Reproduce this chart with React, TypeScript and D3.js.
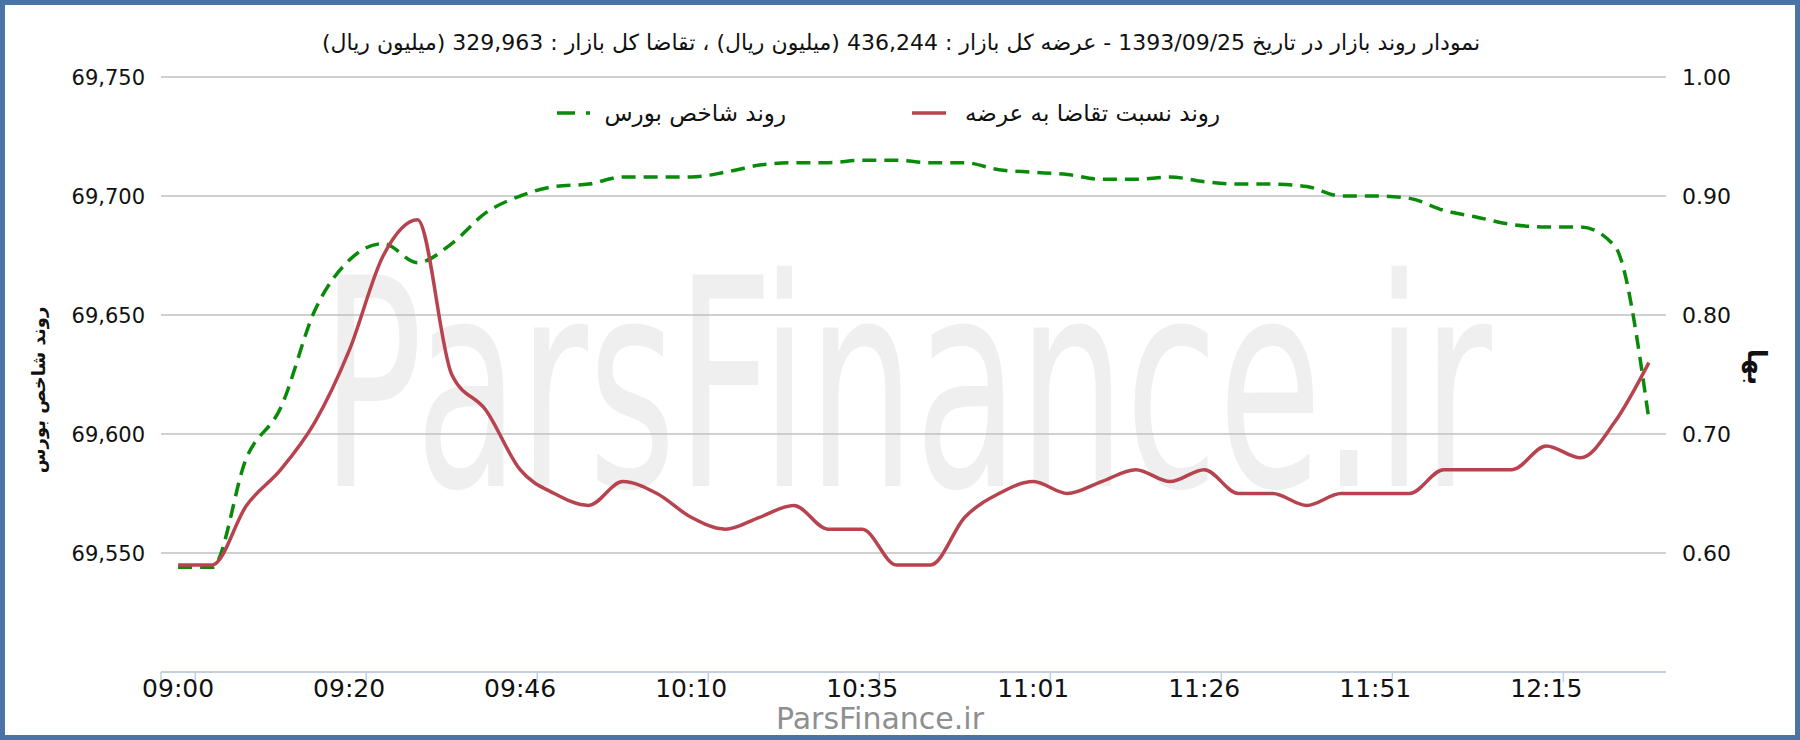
import React, { useLayoutEffect, useRef, useState } from 'react';
import * as d3 from 'd3';

const titleText = 'نمودار روند بازار در تاریخ 1393/09/25 - عرضه کل بازار : 436,244 (میلیون ریال) ، تقاضا کل بازار : 329,963 (میلیون ریال)';
const leftAxisTitle = 'روند شاخص بورس';
const rightAxisTitle = 'بها';
const seriesIndexName = 'روند شاخص بورس';
const seriesRatioName = 'روند نسبت تقاضا به عرضه';
const watermark = 'ParsFinance.ir';

const timeLabels = ['09:00', '09:20', '09:46', '10:10', '10:35', '11:01', '11:26', '11:51', '12:15'];
const labelStep = 5;

const leftTicks = [69550, 69600, 69650, 69700, 69750];
const rightTicks = [0.6, 0.7, 0.8, 0.9, 1.0];

const indexValues = [
  69544, 69544, 69590, 69611, 69652, 69673, 69680, 69672, 69680, 69693,
  69700, 69704, 69705, 69708, 69708, 69708, 69710, 69713, 69714, 69714,
  69715, 69715, 69714, 69714, 69711, 69710, 69709, 69707, 69707, 69708,
  69706, 69705, 69705, 69704, 69700, 69700, 69699, 69694, 69691, 69688,
  69687, 69687, 69679, 69606,
];

const ratioValues = [
  0.59, 0.59, 0.64, 0.67, 0.71, 0.77, 0.85, 0.88, 0.75, 0.72,
  0.67, 0.65, 0.64, 0.66, 0.65, 0.63, 0.62, 0.63, 0.64, 0.62,
  0.62, 0.59, 0.59, 0.63, 0.65, 0.66, 0.65, 0.66, 0.67, 0.66,
  0.67, 0.65, 0.65, 0.64, 0.65, 0.65, 0.65, 0.67, 0.67, 0.67,
  0.69, 0.68, 0.71, 0.76,
];

const W = 1800;
const H = 740;
const PL = 161;
const PR = 1666;
const PT = 77;
const PB = 672;
const FONT = '"DejaVu Sans", sans-serif';
const GREEN = '#0a8a0a';
const RED = '#b7434f';
const WM_X = 321;
const WM_W = 1171;

export default function App() {
  const wmRef = useRef<SVGTextElement>(null);
  const [wmScale, setWmScale] = useState(0.553);

  useLayoutEffect(() => {
    if (wmRef.current) {
      const len = wmRef.current.getComputedTextLength();
      if (len > 0) setWmScale(WM_W / len);
    }
  }, []);

  const n = indexValues.length;
  const x = d3.scaleLinear().domain([-0.5, n - 0.5]).range([PL, PR]);
  const yL = d3.scaleLinear().domain([69500, 69750]).range([PB, PT]);
  const yR = d3.scaleLinear().domain([0.5, 1.0]).range([PB, PT]);

  const lineIdx = d3.line<number>().x((_, i) => x(i)).y((d) => yL(d)).curve(d3.curveMonotoneX);
  const lineRatio = d3.line<number>().x((_, i) => x(i)).y((d) => yR(d)).curve(d3.curveMonotoneX);

  const labelPos = timeLabels.map((t, k) => ({ t, i: k * labelStep }));
  const tickXs = [x(-0.5), ...labelPos.map((p) => x(p.i + 0.5))];

  return (
    <svg width={W} height={H} style={{ position: 'absolute', left: 0, top: 0, display: 'block', background: '#fff' }} fontFamily={FONT}>
      <rect x={0} y={0} width={W} height={H} fill="#fff" />
      {/* watermark */}
      <g transform={`translate(${WM_X},486) scale(${wmScale},1)`}>
        <text ref={wmRef} x={0} y={0} fontSize={290} fill="#efefef">{watermark}</text>
      </g>

      {/* title */}
      <text x={901} y={50} fontSize={22} textAnchor="middle" direction="rtl" fill="#111">{titleText}</text>

      {/* gridlines */}
      {leftTicks.map((v) => (
        <line key={v} x1={PL} x2={PR} y1={yL(v)} y2={yL(v)} stroke="#c0c0c0" strokeWidth={1.5} />
      ))}

      {/* left ticks */}
      {leftTicks.map((v) => (
        <text key={'l' + v} x={145} y={yL(v) + 7.5} fontSize={21} textAnchor="end" fill="#111">{d3.format(',')(v)}</text>
      ))}
      {/* right ticks */}
      {rightTicks.map((v) => (
        <text key={'r' + v} x={1682} y={yR(v) + 8} fontSize={22} textAnchor="start" fill="#111">{d3.format('.2f')(v)}</text>
      ))}

      {/* x axis */}
      <line x1={PL} x2={PR} y1={PB} y2={PB} stroke="#c0d0e0" strokeWidth={2} />
      {tickXs.map((tx, k) => (
        <line key={'t' + k} x1={tx} x2={tx} y1={PB} y2={PB + 10} stroke="#c0d0e0" strokeWidth={1.5} />
      ))}
      {labelPos.map((p) => (
        <text key={p.t} x={x(p.i)} y={697} fontSize={25} textAnchor="middle" fill="#111">{p.t}</text>
      ))}

      {/* axis titles */}
      <text transform={`translate(45,390) rotate(-90)`} fontSize={18} fontWeight="bold" textAnchor="middle" fill="#111">{leftAxisTitle}</text>
      <text transform={`translate(1748,367) rotate(90)`} fontSize={26} fontWeight="bold" textAnchor="middle" fill="#111">{rightAxisTitle}</text>

      {/* series */}
      <path d={lineIdx(indexValues) || ''} fill="none" stroke={GREEN} strokeWidth={3.5} strokeDasharray="14 8" />
      <path d={lineRatio(ratioValues) || ''} fill="none" stroke={RED} strokeWidth={3.5} />

      {/* legend */}
      <line x1={557} x2={590} y1={113} y2={113} stroke={GREEN} strokeWidth={3.5} strokeDasharray="18 11" />
      <text x={786} y={121} fontSize={23} textAnchor="end" fill="#111">{seriesIndexName}</text>
      <line x1={912} x2={946} y1={113} y2={113} stroke={RED} strokeWidth={3.5} />
      <text x={1220} y={121} fontSize={23} textAnchor="end" fill="#111">{seriesRatioName}</text>

      {/* credit */}
      <text x={880} y={729} fontSize={30} textAnchor="middle" fill="#8f8f8f">{watermark}</text>

      {/* border */}
      <rect x={2.5} y={2.5} width={W - 5} height={H - 5} fill="none" stroke="#4a74a6" strokeWidth={5} />
    </svg>
  );
}
